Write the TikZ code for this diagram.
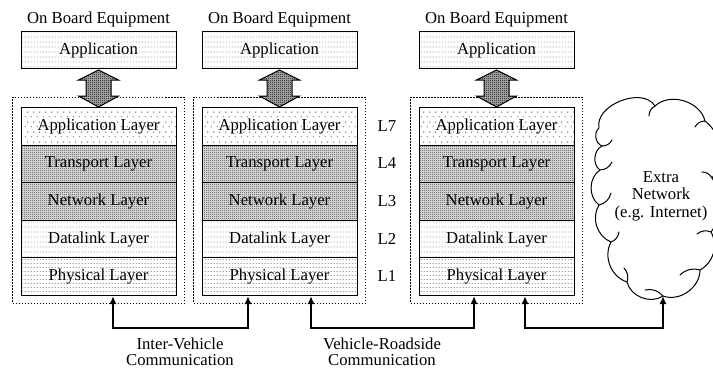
\documentclass[tikz,border=0pt]{standalone}
\usepackage{fontspec}
\setmainfont{Liberation Serif}
\usetikzlibrary{arrows.meta,patterns}

% fill patterns for the layer boxes
\pgfdeclarepatternformonly{rowdots}{\pgfqpoint{0pt}{0pt}}{\pgfqpoint{3pt}{5pt}}{\pgfqpoint{3pt}{5pt}}%
  {\pgfpathrectangle{\pgfqpoint{1pt}{2pt}}{\pgfqpoint{0.9pt}{0.9pt}}\pgfusepath{fill}}
\pgfdeclarepatternformonly{sparsedots}{\pgfqpoint{0pt}{0pt}}{\pgfqpoint{6pt}{10pt}}{\pgfqpoint{6pt}{10pt}}%
  {\pgfpathrectangle{\pgfqpoint{1pt}{2pt}}{\pgfqpoint{0.9pt}{0.9pt}}%
   \pgfpathrectangle{\pgfqpoint{4pt}{7pt}}{\pgfqpoint{0.9pt}{0.9pt}}\pgfusepath{fill}}
\pgfdeclarepatternformonly{densedots}{\pgfqpoint{0pt}{0pt}}{\pgfqpoint{3pt}{4pt}}{\pgfqpoint{3pt}{4pt}}%
  {\pgfpathrectangle{\pgfqpoint{1pt}{1.5pt}}{\pgfqpoint{0.9pt}{0.9pt}}\pgfusepath{fill}}
\pgfdeclarepatternformonly{checker}{\pgfqpoint{0pt}{0pt}}{\pgfqpoint{2pt}{2pt}}{\pgfqpoint{2pt}{2pt}}%
  {\pgfpathrectangle{\pgfqpoint{0pt}{0pt}}{\pgfqpoint{1pt}{1pt}}\pgfusepath{fill}}
\pgfdeclarepatternformonly{fullchecker}{\pgfqpoint{0pt}{0pt}}{\pgfqpoint{2pt}{2pt}}{\pgfqpoint{2pt}{2pt}}%
  {\pgfpathrectangle{\pgfqpoint{0pt}{0pt}}{\pgfqpoint{1pt}{1pt}}%
   \pgfpathrectangle{\pgfqpoint{1pt}{1pt}}{\pgfqpoint{1pt}{1pt}}\pgfusepath{fill}}

\tikzset{
  layer/.style={draw, line width=1pt, minimum width=155pt, minimum height=37.6pt,
    inner sep=0pt, anchor=north},
  sparse/.style={layer, pattern=sparsedots},
  rows/.style={layer, pattern=rowdots},
  dense/.style={layer, pattern=densedots},
  shaded/.style={layer, preaction={fill=black!18}, pattern=checker},
  outerbox/.style={draw, line width=0.9pt, dash pattern=on 1.5pt off 1.5pt,
    minimum width=172pt, minimum height=206pt, inner sep=0pt},
  dblarrow/.style={draw, line width=1pt, preaction={fill=black!30}, pattern=fullchecker},
  conn/.style={line width=2pt, {Latex[length=8pt,width=7pt]}-{Latex[length=8pt,width=7pt]}},
  cloudline/.style={line width=1pt, line join=round, line cap=round},
  lbl/.style={inner sep=0pt}
}

\begin{document}
\begin{tikzpicture}[x=1pt, y=-1pt, font=\fontsize{16.7}{16}\selectfont]
\useasboundingbox (0,0) rectangle (713,368);

\foreach \i/\cx in {1/98.5, 2/279.5, 3/496.5} {
  % dotted enclosure of the protocol stack
  \node[outerbox] (o\i) at (\cx,200) {};
  % on-board application
  \node[lbl] (ob\i) at (\cx,19) {On Board Equipment};
  \node[rows, minimum height=37pt] (a\i) at (\cx,31) {Application};
  % protocol layers
  \node[sparse] (s\i app) at (\cx,107)   {Application Layer};
  \node[shaded] (s\i tr)  at (\cx,144.6) {Transport Layer};
  \node[shaded] (s\i net) at (\cx,182.2) {Network Layer};
  \node[rows]   (s\i dl)  at (\cx,219.8) {Datalink Layer};
  \node[dense]  (s\i phy) at (\cx,257.4) {Physical Layer};
  % interface between application and stack
  \begin{scope}[shift={(a\i.south)}]
    \path[dblarrow] (0,1) -- (20,11) -- (12.5,11) -- (12.5,27) -- (20,27) -- (0,38)
      -- (-20,27) -- (-12.5,27) -- (-12.5,11) -- (-20,11) -- cycle;
  \end{scope}
}

% layer numbers
\node[lbl] (l7) at (387,125.8) {L7};
\node[lbl] (l4) at (387,163.4) {L4};
\node[lbl] (l3) at (387,201.0) {L3};
\node[lbl] (l2) at (387,238.6) {L2};
\node[lbl] (l1) at (387,276.2) {L1};

% external network: a cloud built from puffs
\coordinate (c1)  at (599,128);
\coordinate (c2)  at (655,106);
\coordinate (c3)  at (705,121);
\coordinate (c4)  at (712,178);
\coordinate (c5)  at (711,232);
\coordinate (c6)  at (700,270);
\coordinate (netfoot) at (663,296);
\coordinate (c8)  at (627,282);
\coordinate (c9)  at (611,242);
\coordinate (c10) at (599,205);
\coordinate (c11) at (600,170);
\coordinate (c12) at (602,146);
\draw[cloudline] (c1) to[bend left=80] (c2) to[bend left=60] (c3) to[bend left=45] (c4)
  to[bend left=35] (c5) to[bend left=45] (c6) to[bend left=55] (netfoot)
  to[bend left=55] (c8) to[bend left=50] (c9) to[bend left=50] (c10)
  to[bend left=55] (c11) to[bend left=60] (c12) to[bend left=60] (c1);
% inner hooks of the puffs
\draw[cloudline] (c2) to[bend right=30] ++(-6,10);
\draw[cloudline] (c3) to[bend right=30] ++(-10,6);
\draw[cloudline] (c4) to[bend right=30] ++(-10,-6);
\draw[cloudline] (c5) to[bend right=30] ++(-14,2);
\draw[cloudline] (c6) to[bend right=30] ++(-20,5);
\draw[cloudline] (netfoot) to[bend right=30] ++(-18,-6);
\draw[cloudline] (c8) to[bend right=30] ++(-3,-14);
\draw[cloudline] (c9) to[bend right=30] ++(8,-10);
\draw[cloudline] (c10) to[bend right=30] ++(12,-12);
\draw[cloudline] (c11) to[bend right=30] ++(12,-8);
\draw[cloudline] (c12) to[bend right=30] ++(10,-6);

\node[align=center, font=\fontsize{16.7}{17.5}\selectfont] (nettext) at (661,196)
  {Extra\\Network\\(e.g. Internet)};

% communication links
\draw[conn] ([xshift=14.5pt]s1phy.south) -- ++(0,32) -| ([xshift=-31.5pt]s2phy.south);
\draw[conn] ([xshift=31.5pt]s2phy.south) -- ++(0,32) -| ([xshift=-22.5pt]s3phy.south);
\draw[conn] ([xshift=28.5pt]s3phy.south) -- ++(0,32) -| (netfoot);

% link captions (anchored on the baseline of their last line)
\node[align=center, anchor=base] (iv) at (180,365) {Inter-Vehicle\\Communication};
\node[align=center, anchor=base] (vr) at (382,365) {Vehicle-Roadside\\Communication};
\end{tikzpicture}
\end{document}
